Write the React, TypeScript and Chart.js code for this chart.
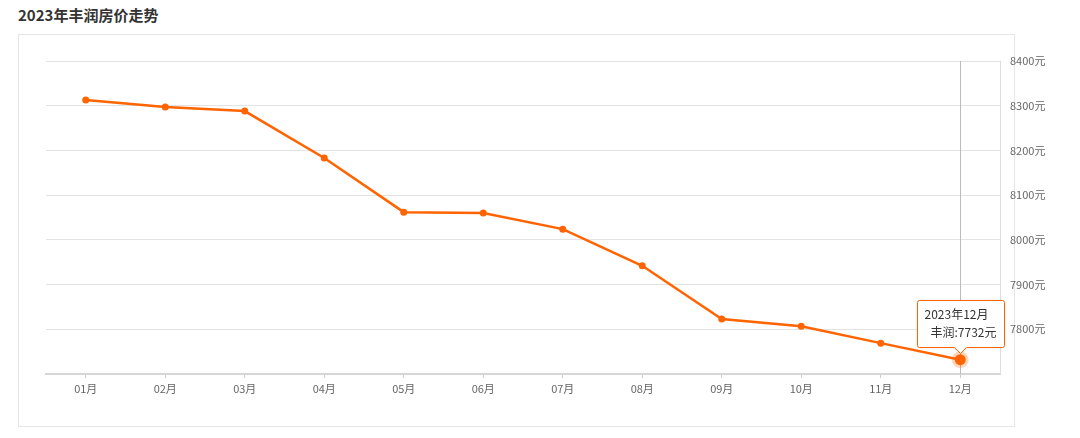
import React, { useEffect, useRef } from "react";
import { Chart, registerables } from "chart.js";

Chart.register(...registerables);

const title = "2023年丰润房价走势";
const months = ["01月", "02月", "03月", "04月", "05月", "06月", "07月", "08月", "09月", "10月", "11月", "12月"];
const prices = [8313, 8297, 8288, 8183, 8062, 8060, 8024, 7942, 7823, 7807, 7769, 7732];
const yTicks = [7700, 7800, 7900, 8000, 8100, 8200, 8300, 8400];
const seriesName = "丰润";
const tooltipTitle = "2023年12月";
const unit = "元";

const ORANGE = "#ff6400";
const FONT = "'Noto Sans CJK SC', 'Noto Sans', sans-serif";

const overlayPlugin = {
  id: "overlay",
  beforeDatasetsDraw(chart: any) {
    const { ctx, chartArea } = chart;
    const meta = chart.getDatasetMeta(0);
    const last = meta.data[meta.data.length - 1];
    ctx.save();
    // crosshair
    ctx.strokeStyle = "#bbbbbb";
    ctx.lineWidth = 1;
    ctx.beginPath();
    ctx.moveTo(Math.round(last.x) + 0.5, chartArea.top);
    ctx.lineTo(Math.round(last.x) + 0.5, chartArea.bottom);
    ctx.stroke();
    // right border
    ctx.strokeStyle = "#dddddd";
    ctx.beginPath();
    ctx.moveTo(chartArea.right + 0.5, chartArea.top);
    ctx.lineTo(chartArea.right + 0.5, chartArea.bottom);
    ctx.stroke();
    ctx.restore();
  },
  afterDatasetsDraw(chart: any) {
    const { ctx } = chart;
    const meta = chart.getDatasetMeta(0);
    const last = meta.data[meta.data.length - 1];
    const px = last.x;
    const py = last.y;
    ctx.save();
    // halo
    ctx.fillStyle = "rgba(255,100,0,0.25)";
    ctx.beginPath();
    ctx.arc(px, py, 8.5, 0, Math.PI * 2);
    ctx.fill();
    ctx.fillStyle = ORANGE;
    ctx.beginPath();
    ctx.arc(px, py, 5.5, 0, Math.PI * 2);
    ctx.fill();
    // tooltip box
    const w = 87;
    const h = 47;
    const caret = 6;
    const bx = Math.round(px - 43) + 0.5;
    const by = Math.round(py - 60) + 0.5;
    const r = 2;
    const cx = Math.round(px) + 0.5;
    ctx.beginPath();
    ctx.moveTo(bx + r, by);
    ctx.lineTo(bx + w - r, by);
    ctx.quadraticCurveTo(bx + w, by, bx + w, by + r);
    ctx.lineTo(bx + w, by + h - r);
    ctx.quadraticCurveTo(bx + w, by + h, bx + w - r, by + h);
    ctx.lineTo(cx + caret, by + h);
    ctx.lineTo(cx, by + h + caret);
    ctx.lineTo(cx - caret, by + h);
    ctx.lineTo(bx + r, by + h);
    ctx.quadraticCurveTo(bx, by + h, bx, by + h - r);
    ctx.lineTo(bx, by + r);
    ctx.quadraticCurveTo(bx, by, bx + r, by);
    ctx.closePath();
    ctx.shadowColor = "rgba(0,0,0,0.12)";
    ctx.shadowBlur = 3;
    ctx.fillStyle = "#ffffff";
    ctx.fill();
    ctx.shadowColor = "transparent";
    ctx.strokeStyle = ORANGE;
    ctx.lineWidth = 1;
    ctx.stroke();
    ctx.fillStyle = "#333333";
    ctx.font = `12px ${FONT}`;
    ctx.textBaseline = "middle";
    ctx.textAlign = "left";
    ctx.fillText(tooltipTitle, bx + 7, by + 14);
    ctx.textAlign = "right";
    ctx.fillText(`${seriesName}:${prices[prices.length - 1]}${unit}`, bx + w - 8, by + 32);
    ctx.restore();
  },
};

export default function App() {
  const ref = useRef<HTMLCanvasElement | null>(null);

  useEffect(() => {
    if (!ref.current) return;
    const n = prices.length;
    const chart = new Chart(ref.current, {
      type: "line",
      data: {
        labels: months,
        datasets: [
          {
            label: seriesName,
            data: prices,
            borderColor: ORANGE,
            backgroundColor: ORANGE,
            borderWidth: 2.5,
            pointRadius: prices.map((_, i) => (i === n - 1 ? 0 : 3.5)),
            pointBackgroundColor: ORANGE,
            pointBorderWidth: 0,
            tension: 0,
          },
        ],
      },
      options: {
        animation: false,
        responsive: false,
        maintainAspectRatio: false,
        layout: { padding: { left: 46, top: 61, right: 0, bottom: 0 } },
        plugins: {
          legend: { display: false },
          tooltip: { enabled: false },
          title: { display: false },
        },
        events: [],
        scales: {
          x: {
            type: "category",
            offset: true,
            grid: {
              display: true,
              drawOnChartArea: false,
              drawTicks: true,
              tickLength: 4,
              offset: false,
              color: "#cccccc",
            },
            border: { display: true, color: "#d6d6d6", width: 2 },
            ticks: {
              color: "#666666",
              font: { size: 11, family: FONT },
              padding: 4,
              maxRotation: 0,
            },
            afterFit(scale: any) {
              scale.height = 64;
            },
          },
          y: {
            position: "right",
            min: yTicks[0],
            max: yTicks[yTicks.length - 1],
            afterBuildTicks(scale: any) {
              scale.ticks = yTicks.map((v) => ({ value: v }));
            },
            grid: {
              color: "#e3e3e3",
              drawTicks: false,
              lineWidth: 1,
            },
            border: { display: false },
            ticks: {
              color: "#666666",
              font: { size: 11, family: FONT },
              padding: 10,
              callback: (v: any) => (v === yTicks[0] ? "" : `${v}${unit}`),
            },
            afterFit(scale: any) {
              scale.width = 80;
            },
          },
        },
      },
      plugins: [overlayPlugin],
    });
    return () => chart.destroy();
  }, []);

  return (
    <div style={{ position: "fixed", left: 0, top: 0, width: 1080, height: 438, background: "#fff" }}>
      <div
        style={{
          position: "absolute",
          left: 18,
          top: 5,
          fontFamily: FONT,
          fontWeight: "bold",
          fontSize: 15,
          color: "#333",
          lineHeight: "20px",
        }}
      >
        {title}
      </div>
      <div
        style={{
          position: "absolute",
          left: 18,
          top: 34,
          width: 997,
          height: 393,
          border: "1px solid #e6e6e6",
          boxSizing: "border-box",
        }}
      />
      <canvas ref={ref} width={1080} height={438} style={{ position: "absolute", left: 0, top: 0, width: 1080, height: 438 }} />
    </div>
  );
}
